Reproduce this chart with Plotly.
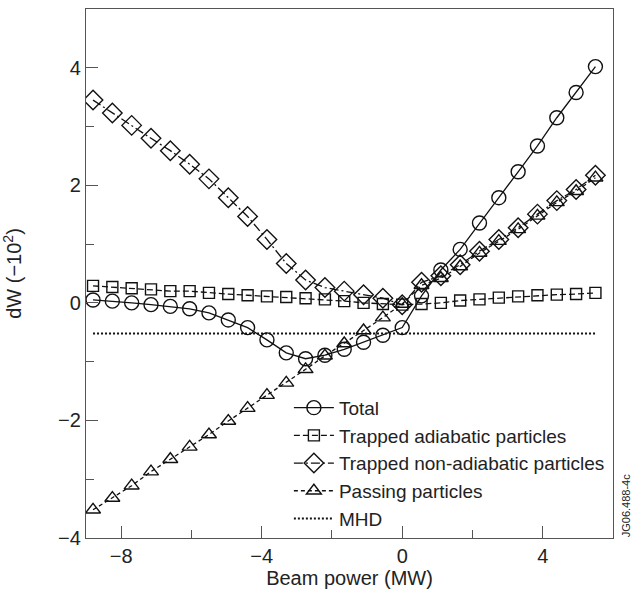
import plotly.graph_objects as go

# Beam power (MW)
beam_power = [-8.8, -8.25, -7.7, -7.15, -6.6, -6.05, -5.5, -4.95, -4.4, -3.85, -3.3, -2.75,
              -2.2, -1.65, -1.1, -0.55, 0.0, 0.55, 1.1, 1.65, 2.2, 2.75, 3.3, 3.85, 4.4, 4.95, 5.5]

total = [0.05, 0.03, 0.0, -0.03, -0.06, -0.10, -0.17, -0.29, -0.42, -0.63, -0.85, -0.95,
         -0.89, -0.79, -0.67, -0.55, -0.42, 0.12, 0.56, 0.91, 1.36, 1.79, 2.23, 2.67, 3.15, 3.58, 4.02]

trapped_adiabatic = [0.29, 0.27, 0.25, 0.23, 0.20, 0.20, 0.17, 0.15, 0.13, 0.11, 0.10, 0.08,
                     0.06, 0.03, 0.0, -0.02, -0.03, -0.02, 0.0, 0.04, 0.06, 0.09, 0.11, 0.13, 0.14, 0.15, 0.17]

trapped_non_adiabatic = [3.45, 3.23, 3.02, 2.80, 2.59, 2.36, 2.11, 1.79, 1.47, 1.08, 0.67, 0.39,
                         0.26, 0.20, 0.14, 0.08, -0.03, 0.35, 0.46, 0.65, 0.88, 1.08, 1.28, 1.51, 1.74, 1.93, 2.17]

passing = [-3.52, -3.32, -3.11, -2.87, -2.66, -2.45, -2.24, -2.01, -1.79, -1.57, -1.36, -1.13,
           -0.90, -0.69, -0.47, -0.25, -0.02, 0.30, 0.42, 0.62, 0.85, 1.05, 1.25, 1.48, 1.71, 1.90, 2.13]

mhd_x = [-8.8, 5.5]
mhd_y = [-0.52, -0.52]

x_tickvals = [-8, -4, 0, 4]
x_ticktext = ["\u22128", "\u22124", "0", "4"]
y_tickvals = [-4, -2, 0, 2, 4]
y_ticktext = ["\u22124", "\u22122", "0", "2", "4"]

FONT = "Liberation Sans, Arial, Helvetica, sans-serif"
BLACK = "#111111"
AXC = "#555555"

fig = go.Figure()

def add(name, y, symbol, size, dash):
    fig.add_trace(go.Scatter(
        x=beam_power, y=y, name=name, mode="lines+markers",
        line=dict(color=BLACK, width=1.3, dash=dash),
        marker=dict(symbol=symbol, size=size, color=BLACK, line=dict(width=1.4, color=BLACK)),
    ))

add("Total", total, "circle-open", 14, "solid")
add("Trapped adiabatic particles", trapped_adiabatic, "square-open", 11, "6px,3px")
add("Trapped non-adiabatic particles", trapped_non_adiabatic, "diamond-open", 15, "9px,3px,2px,3px")
add("Passing particles", passing, "triangle-up-open", 13, "4px,3px")
fig.add_trace(go.Scatter(x=mhd_x, y=mhd_y, name="MHD", mode="lines",
                         line=dict(color=BLACK, width=2, dash="2px,2px")))

fig.update_layout(
    width=634, height=589,
    margin=dict(l=86, r=21, t=9, b=51),
    paper_bgcolor="white", plot_bgcolor="white",
    font=dict(family=FONT, size=20, color="#222222"),
    showlegend=True,
    legend=dict(x=0.385, y=0.282, xanchor="left", yanchor="top",
                bgcolor="rgba(0,0,0,0)", font=dict(size=19, family=FONT, color="#222222"),
                itemwidth=40, tracegroupgap=0),
    xaxis=dict(range=[-9, 6], tickvals=x_tickvals, ticktext=x_ticktext,
               ticks="inside", ticklen=12, tickwidth=1.3, tickcolor=AXC,
               showline=True, linecolor=AXC, linewidth=1.3, mirror=True,
               showgrid=False, zeroline=False,
               minor=dict(tickvals=[-6, -2, 2], ticks="inside", ticklen=8, tickwidth=1.3, tickcolor=AXC),
               title=dict(text="Beam power (MW)", standoff=2, font=dict(size=20)),
               automargin=False),
    yaxis=dict(range=[-4, 5], tickvals=y_tickvals, ticktext=y_ticktext,
               ticks="inside", ticklen=12, tickwidth=1.3, tickcolor=AXC,
               showline=True, linecolor=AXC, linewidth=1.3, mirror=True,
               showgrid=False, zeroline=False,
               minor=dict(tickvals=[-3, -1, 1, 3], ticks="inside", ticklen=8, tickwidth=1.3, tickcolor=AXC),
               title=dict(text="dW (\u221210<sup>2</sup>)", standoff=32, font=dict(size=20)),
               automargin=False),
)

fig.add_annotation(text="JG06.488-4c", textangle=-90, xref="paper", yref="paper",
                   x=1.0247, y=0.06, xanchor="center", yanchor="middle", showarrow=False,
                   font=dict(size=11, family=FONT, color="#222222"))

fig.write_html("out.html", config={"displayModeBar": False},
               post_script="document.body.style.margin='0';document.body.style.overflow='hidden';")
